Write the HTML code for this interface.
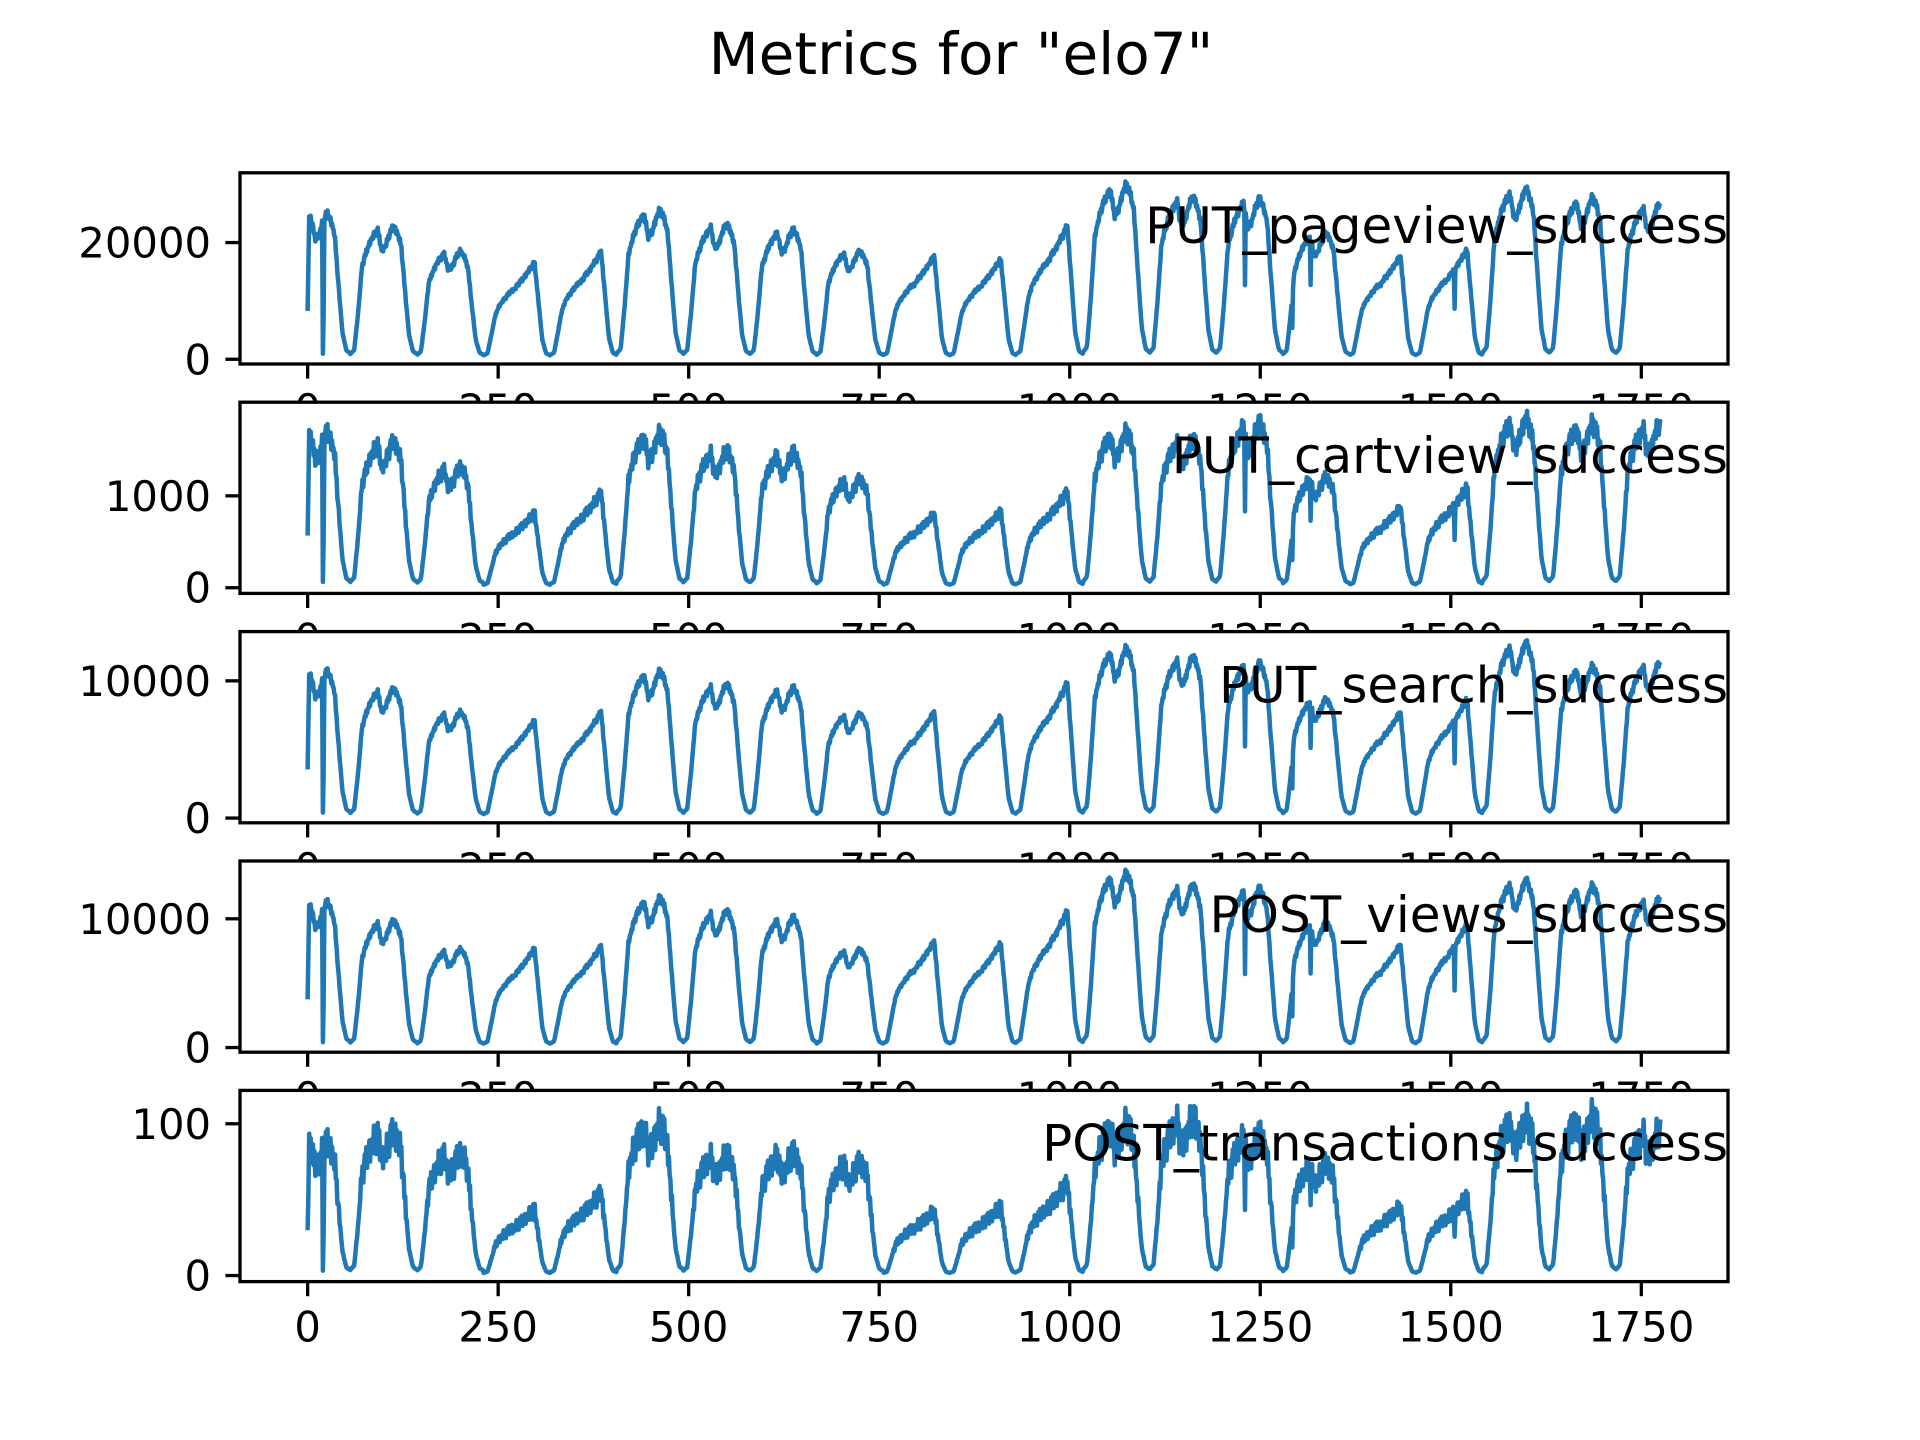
<!DOCTYPE html>
<html><head><meta charset="utf-8"><style>
html,body{margin:0;padding:0;background:#fff;}
svg{display:block;font-family:"DejaVu Sans","Liberation Sans",sans-serif;}
</style></head><body>
<svg id="fig" width="1920" height="1440" viewBox="0 0 1920 1440" xmlns="http://www.w3.org/2000/svg">
<rect x="0" y="0" width="1920" height="1440" fill="#fff"/>
<text x="961" y="74" font-size="58" text-anchor="middle" fill="#000">Metrics for "elo7"</text>
<g id="panels"></g>
</svg>
<script>
// ---- data ----
const seriesNames = ["PUT_pageview_success","PUT_cartview_success","PUT_search_success","POST_views_success","POST_transactions_success"];
// daily peak values, day 0 .. day 20
const peaksPageview = [25100,22800,18600,16700,18500,25600,23200,22300,18600,17800,17300,23000,30000,27900,27600,21700,17800,18900,29300,27800,26700];
const peaksCartview = [1700,1600,1320,820,1040,1690,1500,1480,1190,810,840,1050,1700,1620,1800,1210,880,1100,1840,1790,1780];
const peaksSearch = [10750,9480,7770,7160,7770,10750,9790,9550,7640,7770,7480,9910,12420,11820,11350,8720,7770,8720,12820,11100,11350];
const peaksViews = [11350,9920,7670,7750,7920,11680,10670,10170,7670,8300,8170,10670,13600,12680,12420,9800,8050,9670,13050,12600,11680];
const peaksTransactions = [88,95,81,44,55,100,80,81,75,43,46,61,100,104,93,74,46,52,103,105,96];
// day type: 0 = plateau day, 1 = ramp day
const dayType = [0,0,0,1,1,0,0,0,0,1,1,1,0,0,0,0,1,1,0,0,0];
// daily shape profiles (fraction of peak), trough to trough
const profilePlateau = [0.04,0.07,0.35,0.70,0.80,0.88,0.93,0.97,0.82,0.85,0.94,1.00,0.95,0.85,0.50,0.18,0.06,0.04];
const profileRamp = [0.04,0.06,0.25,0.45,0.55,0.60,0.65,0.70,0.72,0.78,0.82,0.88,0.93,1.00,0.60,0.20,0.06,0.04];
// sudden drops: sample index and multiplier
const dipIndex = [0,1,20,21,1230,1292,1316,1505];
const dipFactor = [0.35,0.7,0.04,0.3,0.5,0.5,0.6,0.55];
const noisePattern = [0.3,-0.6,0.9,-0.2,0.5,-0.9,0.1,0.7,-0.4,0.8,-0.7,0.2,-0.3,0.6,-0.8,0.4,-0.1];
const noiseAmp = [0.03,0.07,0.03,0.03,0.13];
const yTicks = [[0,20000],[0,1000],[0,10000],[0,10000],[0,100]];
const xTicks = [0,250,500,750,1000,1250,1500,1750];
const nPoints = 1776;
const firstTrough = 56, period = 87.4;
const labelOffsets = [70,71,71,71,70];

const allPeaks = [peaksPageview,peaksCartview,peaksSearch,peaksViews,peaksTransactions];

function profileAt(prof, ph){
  const f = ph*(prof.length-1);
  const i = Math.min(Math.floor(f), prof.length-2);
  const t = f - i;
  return prof[i]*(1-t) + prof[i+1]*t;
}
function buildSeries(s){
  const peaks = allPeaks[s];
  const out = [];
  for(let u=0; u<nPoints; u++){
    const r = (u-firstTrough)/period;
    let day = Math.floor(r)+1;
    if(day<0) day=0; if(day>peaks.length-1) day=peaks.length-1;
    let ph = r - Math.floor(r);
    const prof = dayType[day] ? profileRamp : profilePlateau;
    let v = peaks[day]*profileAt(prof, ph);
    v *= 1 + noiseAmp[s]*noisePattern[u % noisePattern.length]*(ph>0.15&&ph<0.85?1:0.3);
    const di = dipIndex.indexOf(u);
    if(di>=0) v *= dipFactor[di];
    out.push(v);
  }
  return out;
}

const L=240, R=1728, W=R-L, H=191.2, top0=172.8, step=229.4;
const NS="http://www.w3.org/2000/svg";
const g = document.getElementById('panels');
function el(tag, attrs){ const e=document.createElementNS(NS,tag); for(const k in attrs) e.setAttribute(k, attrs[k]); return e; }
const xmin = -(nPoints-1)*0.05, xmax = (nPoints-1)*1.05;
const xScale = u => L + (u-xmin)/(xmax-xmin)*W;

for(let s=0; s<5; s++){
  const vals = buildSeries(s);
  const top = top0 + s*step, bot = top + H;
  let mn=Infinity, mx=-Infinity; vals.forEach(v=>{ if(v<mn)mn=v; if(v>mx)mx=v; });
  const ylo = mn-(mx-mn)*0.05, yhi = mx+(mx-mn)*0.05;
  const yScale = v => bot - (v-ylo)/(yhi-ylo)*H;
  const pg = el('g',{});
  
  
  const bg = el('rect',{x:L,y:top,width:W,height:H,fill:'#fff'});
  
  
  pg.appendChild(bg);
  const cp = el('clipPath',{id:'clip'+s}); cp.appendChild(el('rect',{x:L,y:top,width:W,height:H})); pg.appendChild(cp);
  let pts = vals.map((v,u)=>xScale(u).toFixed(1)+','+yScale(v).toFixed(1)).join(' ');
  const line = el('polyline',{points:pts,fill:'none',stroke:'#1f77b4','stroke-width':4.5,'stroke-linejoin':'round','clip-path':'url(#clip'+s+')'});
  
  
  pg.appendChild(line);
  xTicks.forEach(t=>{
    const x = xScale(t);
    const tk = el('line',{x1:x,y1:bot,x2:x,y2:bot+14.6,stroke:'#000','stroke-width':3.3});
    
    
    pg.appendChild(tk);
    const tx = el('text',{x:x,y:bot+60,'font-size':41.7,'text-anchor':'middle',fill:'#000'});
    
    
    tx.textContent = t; pg.appendChild(tx);
  });
  yTicks[s].forEach(t=>{
    const y = yScale(t);
    const tk = el('line',{x1:L-14.6,y1:y,x2:L,y2:y,stroke:'#000','stroke-width':3.3});
    
    
    pg.appendChild(tk);
    const tx = el('text',{x:L-29,y:y+15,'font-size':41.7,'text-anchor':'end',fill:'#000'});
    
    
    tx.textContent = t; pg.appendChild(tx);
  });
  const fr = el('rect',{x:L,y:top,width:W,height:H,fill:'none',stroke:'#000','stroke-width':3.3});
  
  
  pg.appendChild(fr);
  const lb = el('text',{x:R,y:top+labelOffsets[s],'font-size':50,'text-anchor':'end',fill:'#000'});
  
  
  lb.textContent = seriesNames[s]; pg.appendChild(lb);
  g.appendChild(pg);
}
</script>
</body></html>
